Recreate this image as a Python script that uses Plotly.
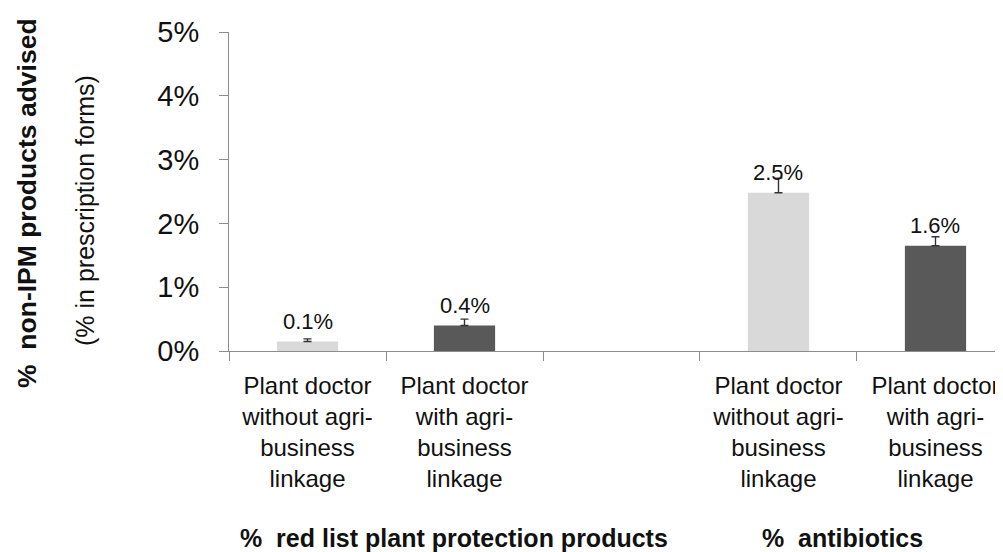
import plotly.graph_objects as go

# ---- data ----
cat_pos = [0, 1, 3, 4]
cat_labels = [
    "Plant doctor<br>without agri-<br>business<br>linkage",
    "Plant doctor<br>with agri-<br>business<br>linkage",
    "Plant doctor<br>without agri-<br>business<br>linkage",
    "Plant doctor<br>with agri-<br>business<br>linkage",
]
values = [0.15, 0.40, 2.48, 1.65]          # % in prescription forms
err_up = [0.04, 0.10, 0.23, 0.14]
value_labels = ["0.1%", "0.4%", "2.5%", "1.6%"]
bar_colors = ["#d9d9d9", "#595959", "#d9d9d9", "#595959"]
boundaries = [-0.5, 0.5, 1.5, 2.5, 3.5, 4.5]
y_ticks = [0, 1, 2, 3, 4, 5]

FONT = "Liberation Sans, Arial, sans-serif"
AXIS_GRAY = "#8c8c8c"
TXT = "#111111"

fig = go.Figure()
fig.add_trace(go.Bar(
    x=cat_pos, y=values, width=0.39,
    marker=dict(color=bar_colors, line=dict(width=0)),
    error_y=dict(type="data", symmetric=False, array=err_up,
                 arrayminus=[0] * len(err_up),
                 color="#333333", thickness=1.4, width=4),
    hoverinfo="skip",
))

for x, v, t in zip(cat_pos, values, value_labels):
    fig.add_annotation(x=x, y=v, text=t, showarrow=False, yshift=20,
                       xanchor="center", yanchor="middle",
                       font=dict(size=22, color=TXT, family=FONT))

# group labels under the axis
fig.add_annotation(x=0.93, y=0, xref="x", yref="paper", yshift=-187,
                   text="<b>%\u00a0 red list plant protection products</b>",
                   showarrow=False, xanchor="center", yanchor="middle",
                   font=dict(size=25, color=TXT, family=FONT))
fig.add_annotation(x=3.41, y=0, xref="x", yref="paper", yshift=-187,
                   text="<b>%\u00a0 antibiotics</b>",
                   showarrow=False, xanchor="center", yanchor="middle",
                   font=dict(size=25, color=TXT, family=FONT))

# y titles
fig.add_annotation(x=-0.261, y=0.464, xref="paper", yref="paper",
                   text="<b>%\u00a0 non-IPM products advised</b>", textangle=-90,
                   showarrow=False, xanchor="center", yanchor="middle",
                   font=dict(size=26.5, color=TXT, family=FONT))
fig.add_annotation(x=-0.186, y=0.439, xref="paper", yref="paper",
                   text="(% in prescription forms)", textangle=-90,
                   showarrow=False, xanchor="center", yanchor="middle",
                   font=dict(size=25, color=TXT, family=FONT))

fig.update_layout(
    width=1003, height=552,
    margin=dict(l=221, r=8, t=24, b=209),
    paper_bgcolor="white", plot_bgcolor="white",
    showlegend=False,
    font=dict(family=FONT, color=TXT),
    xaxis=dict(
        range=[-0.5, 4.43], tickmode="array", tickvals=cat_pos,
        ticktext=cat_labels, ticks="", showgrid=False, zeroline=False,
        showline=True, linecolor=AXIS_GRAY, linewidth=1,
        tickfont=dict(size=24, color=TXT, family=FONT),
        ticklabelstandoff=13,
        minor=dict(tickmode="array", tickvals=boundaries, ticks="outside",
                   ticklen=9, tickcolor=AXIS_GRAY, tickwidth=1, showgrid=False),
    ),
    yaxis=dict(
        range=[0, 5], tickmode="array", tickvals=y_ticks,
        ticktext=[f"{v}%" for v in y_ticks],
        ticks="outside", ticklen=9, tickcolor=AXIS_GRAY, tickwidth=1,
        showgrid=False, zeroline=False,
        showline=True, linecolor=AXIS_GRAY, linewidth=1,
        tickfont=dict(size=29, color=TXT, family=FONT),
        ticklabelstandoff=14,
    ),
)

fig.write_html("out.html")
